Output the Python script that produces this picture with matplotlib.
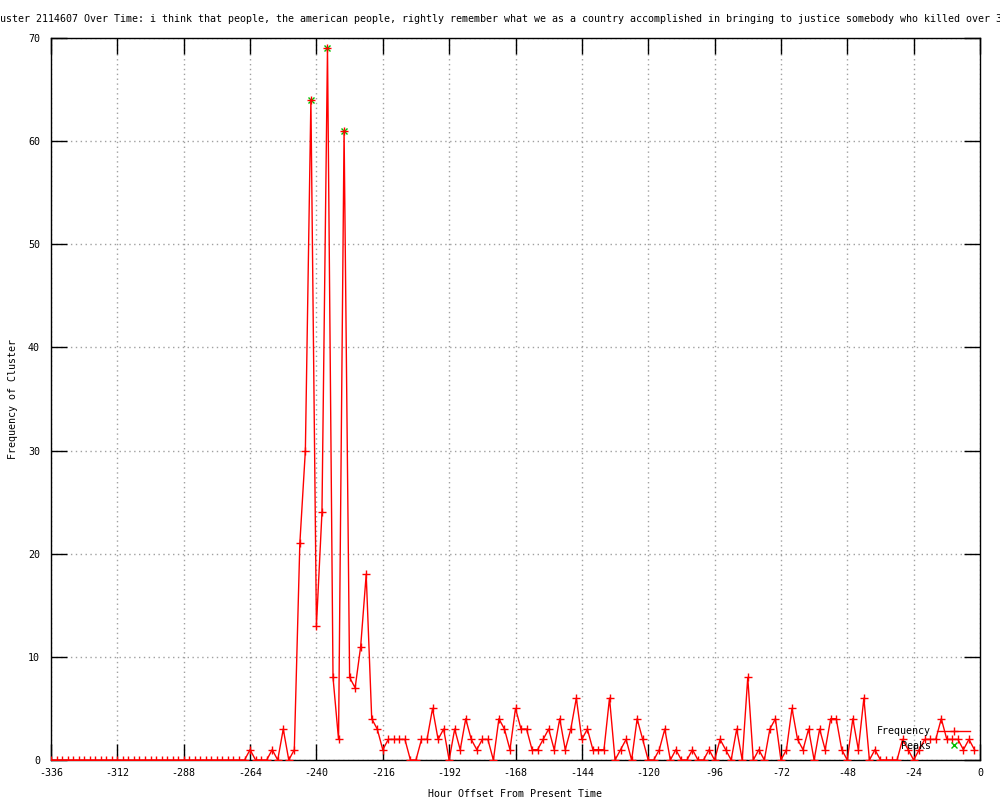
import numpy as np
import matplotlib
matplotlib.use('Agg')
import matplotlib.pyplot as plt

# данные: частота кластера по часам (шаг 2 часа)
hours = list(range(-336, 0, 2))
freq = [0] * 36 + [
    1, 0, 0, 0, 1, 0, 3, 0, 1, 21,
    30, 64, 13, 24, 69, 8, 2, 61, 8, 7,
    11, 18, 4, 3, 1, 2, 2, 2, 2, 0,
    0, 2, 2, 5, 2, 3, 0, 3, 1, 4,
    2, 1, 2, 2, 0, 4, 3, 1, 5, 3,
    3, 1, 1, 2, 3, 1, 4, 1, 3, 6,
    2, 3, 1, 1, 1, 6, 0, 1, 2, 0,
    4, 2, 0, 0, 1, 3, 0, 1, 0, 0,
    1, 0, 0, 1, 0, 2, 1, 0, 3, 0,
    8, 0, 1, 0, 3, 4, 0, 1, 5, 2,
    1, 3, 0, 3, 1, 4, 4, 1, 0, 4,
    1, 6, 0, 1, 0, 0, 0, 0, 2, 1,
    0, 1, 2, 2, 2, 4, 2, 2, 2, 1,
    2, 1,
]

# пики
peak_hours = [-242, -236, -230]
peak_vals = [64, 69, 61]

x_ticks = list(range(-336, 1, 24))
y_ticks = list(range(0, 71, 10))

# заголовок в оригинале обрезан краями картинки, берём видимую часть
title = ("uster 2114607 Over Time: i think that people, the american people, "
         "rightly remember what we as a country accomplished in bringing to "
         "justice somebody who killed over 3")

plt.rcParams['font.family'] = ['DejaVu Sans Mono']
plt.rcParams['axes.unicode_minus'] = False
fs = 7.2

fig = plt.figure(figsize=(10, 8), dpi=100)
ax = fig.add_axes([0.051, 0.05, 0.929, 0.9025])

ax.plot(peak_hours, peak_vals, linestyle='none', marker='x', color='#00c000',
        markersize=5, markeredgewidth=1, label='Peaks', zorder=3)
ax.plot(hours, freq, color='red', linewidth=1, marker='+', markersize=5.5,
        markeredgewidth=1, label='Frequency', zorder=4)

ax.set_xlim(-336, 0)
ax.set_ylim(0, 70)
ax.set_xticks(x_ticks)
ax.set_yticks(y_ticks)
ax.tick_params(direction='in', length=11.5, width=1, top=True, right=True,
               labelsize=fs, colors='black')
ax.tick_params(axis='x', pad=6)
ax.tick_params(axis='y', pad=8)
ax.grid(True, color='#a0a0a0', linestyle=(0, (1, 2.5)), linewidth=1)
for s in ax.spines.values():
    s.set_linewidth(1)
    s.set_color('black')

ax.set_xlabel('Hour Offset From Present Time', fontsize=fs, labelpad=8)
ax.set_ylabel('Frequency of Cluster', fontsize=fs, labelpad=7)

fig.text(0.0, 0.976, title, fontsize=fs, ha='left', va='center')

# легенда в правом нижнем углу: сначала подпись, потом образец
h, l = ax.get_legend_handles_labels()
ax.legend(h[::-1], l[::-1], loc='lower right', bbox_to_anchor=(0.997, 0.003),
          frameon=False, markerfirst=False, fontsize=fs, handlelength=3.3,
          handletextpad=0.6, labelspacing=0.45, borderpad=0.2)

plt.savefig('out.png', dpi=100)
